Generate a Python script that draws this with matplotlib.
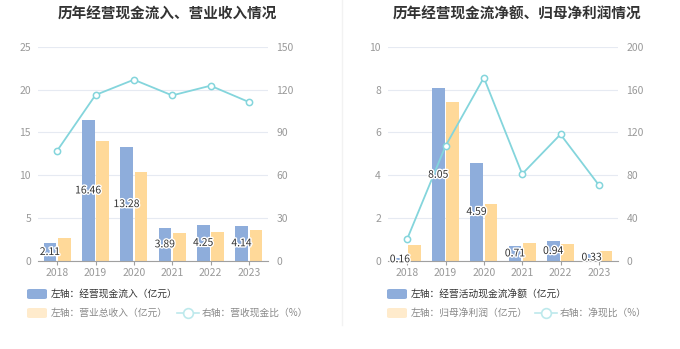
import matplotlib
matplotlib.use("Agg")
import matplotlib.pyplot as plt
from matplotlib.patches import FancyBboxPatch
from matplotlib.lines import Line2D
import matplotlib.patheffects as pe
import numpy as np

plt.rcParams['font.family'] = ['Noto Sans CJK SC', 'DejaVu Sans']

years = ['2018', '2019', '2020', '2021', '2022', '2023']

# 左图
cash_in = [2.11, 16.46, 13.28, 3.89, 4.25, 4.14]
revenue = [2.68, 14.0, 10.34, 3.30, 3.42, 3.65]
cash_ratio = [77.2, 116.2, 126.9, 115.9, 122.7, 111.3]

# 右图
net_cash = [0.16, 8.05, 4.59, 0.71, 0.94, 0.33]
net_profit = [0.75, 7.42, 2.64, 0.86, 0.78, 0.48]
net_ratio = [20.5, 107.3, 171.1, 81.2, 118.2, 70.9]

titles = ['历年经营现金流入、营业收入情况', '历年经营现金流净额、归母净利润情况']
legend_a = [['左轴：经营现金流入（亿元）', '左轴：营业总收入（亿元）', '右轴：营收现金比（%）'],
            ['左轴：经营活动现金流净额（亿元）', '左轴：归母净利润（亿元）', '右轴：净现比（%）']]

BLUE = '#8EADDB'
ORANGE = '#FFD999'
TEAL = '#84D5DC'
GRID = '#E6EAF2'
TICK = '#999999'

W, H = 680, 349
fig = plt.figure(figsize=(W / 100, H / 100), dpi=100)


def fx(x):
    return x / W


def fy(y):
    return 1 - y / H


def draw_panel(left, bars1, bars2, line, ylim1, ylim2, title, legend, leg_x):
    ax = fig.add_axes([fx(left), fy(261), 230 / W, (261 - 46.7) / H])
    x = np.arange(len(years))
    ax.bar(x - 0.19, bars1, width=0.33, color=BLUE, zorder=2)
    ax.bar(x + 0.19, bars2, width=0.33, color=ORANGE, zorder=2)
    ax.set_xlim(-0.5, 5.5)
    ax.set_ylim(0, ylim1[-1])
    ax.set_yticks(ylim1)
    ax.set_xticks(x)
    ax.set_xticklabels(years)
    ax.grid(axis='y', color=GRID, lw=0.8, zorder=0)
    for s in ['top', 'right', 'left']:
        ax.spines[s].set_visible(False)
    ax.spines['bottom'].set_color('#A0A0A0')
    ax.tick_params(axis='y', length=0, labelsize=7.5, labelcolor=TICK, pad=5)
    ax.tick_params(axis='x', length=3, color='#A0A0A0', labelsize=7.5, labelcolor=TICK, pad=2)

    ax2 = ax.twinx()
    ax2.plot(x, line, color=TEAL, lw=1.3, marker='o', ms=4.5, mfc='white', mec=TEAL, mew=1.1, zorder=3)
    ax2.set_ylim(0, ylim2[-1])
    ax2.set_yticks(ylim2)
    for s in ax2.spines.values():
        s.set_visible(False)
    ax2.tick_params(axis='y', length=0, labelsize=7.5, labelcolor=TICK, pad=6)

    for xi, v in zip(x, bars1):
        ax2.text(xi - 0.19, v / 2, f'{v:.2f}', transform=ax.transData, ha='center', va='center',
                 fontsize=7.5, color='#333333', zorder=5,
                 path_effects=[pe.withStroke(linewidth=2, foreground='white')])

    fig.text(fx(left + 115 + 14), fy(14), title, ha='center', va='center',
             fontsize=10.5, fontweight='bold', color='#333333')

    # 图例
    rows = [(294, BLUE, legend[0], '#333333'), (313, '#FFEBCC', legend[1], '#888888')]
    for yy, col, txt, tc in rows:
        fig.add_artist(FancyBboxPatch((fx(leg_x), fy(yy + 5)), 20 / W, 10 / H,
                                      boxstyle='round,pad=0,rounding_size=0.004',
                                      transform=fig.transFigure, fc=col, ec='none'))
        fig.text(fx(leg_x + 24), fy(yy), txt, ha='left', va='center', fontsize=7, color=tc)
    lx = leg_x + (150 if leg_x < 300 else 148)
    fig.add_artist(Line2D([fx(lx), fx(lx + 22)], [fy(313), fy(313)], transform=fig.transFigure,
                          color='#BDE9EC', lw=1.2))
    fig.add_artist(Line2D([fx(lx + 11)], [fy(313)], transform=fig.transFigure, marker='o',
                          ms=7, mfc='white', mec='#BDE9EC', mew=1.2))
    fig.text(fx(lx + 25), fy(313), legend[2], ha='left', va='center', fontsize=7, color='#888888')


draw_panel(38, cash_in, revenue, cash_ratio, [0, 5, 10, 15, 20, 25], [0, 30, 60, 90, 120, 150],
           titles[0], legend_a[0], 27)
draw_panel(388, net_cash, net_profit, net_ratio, [0, 2, 4, 6, 8, 10], [0, 40, 80, 120, 160, 200],
           titles[1], legend_a[1], 387)

fig.add_artist(Line2D([fx(342), fx(342)], [fy(0), fy(325)], transform=fig.transFigure,
                      color='#F2F2F2', lw=1))

fig.savefig('out.png', dpi=100)
